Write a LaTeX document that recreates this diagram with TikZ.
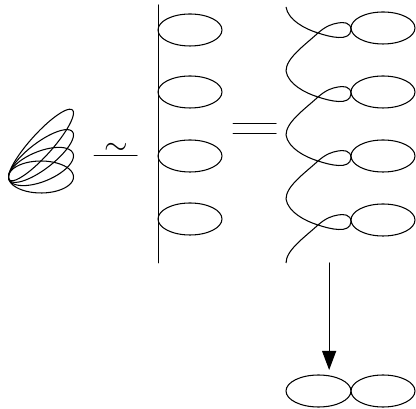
\documentclass[tikz,border=0pt]{standalone}
\usetikzlibrary{arrows.meta,calc}
\usepackage{tkz-euclide}

\begin{document}
\begin{tikzpicture}[scale=.02]
\tkzSetUpLine[line width=0.6pt,color=black]
\useasboundingbox (0,0) rectangle (416,409);

\tkzDefPoints{158/404/P,158/146/Q,233/285/E,276/285/F,233/275/G,276/275/H,94/253/R,137/253/S,329/146/T,329/39/U}

\tkzDrawSegments(P,Q E,F G,H R,S)
\tkzDrawSegment[arrows={-{Triangle[length=.38cm,width=.28cm]}}](T,U)

\node (tilde) at (116,260) {\LARGE$\sim$};

% Fan of sheared loops on the left.
\foreach \d in {0,21,42,64}
  \draw[line width=0.6pt] plot[smooth cycle,samples=49,domain=0:352.5,variable=\t]
    ({41+32.5*cos(\t)},{232+\d*(1+cos(\t))/2+16*sin(\t)});

% Ellipses on the rod, then the ones at the end of the twisted strand.
\foreach \y in {379,317,253,190}
  \draw[line width=0.6pt] (190,\y) ellipse (32 and 16);
\foreach \y in {381,317,253,189}
  \draw[line width=0.6pt] (383,\y) ellipse (32 and 16);

% One period of the strand for each loop.
\foreach \n in {0,...,3}
  \draw[line width=0.6pt,shift={(0,-64*\n)}] (286,402)
    .. controls (288,389) and (305,380) .. (318,376)
    .. controls (330,372) and (350,367) .. (351,379)
    .. controls (351,387) and (343,387) .. (338,386)
    .. controls (332,385) and (326,383) .. (318,376)
    .. controls (305,364) and (286,351) .. (286,338);

% The two ellipses at the bottom.
\draw[line width=0.6pt] (318.5,18) ellipse (32.5 and 16);
\draw[line width=0.6pt] (383,18) ellipse (32 and 16);

\end{tikzpicture}
\end{document}
